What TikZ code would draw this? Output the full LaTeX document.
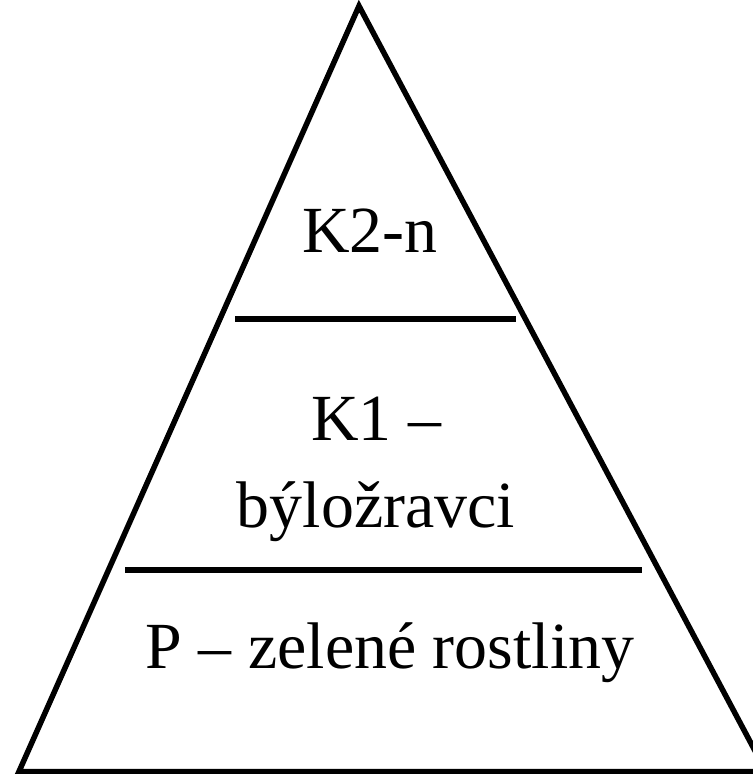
\documentclass[tikz,border=0pt]{standalone}
\usepackage{fontspec}
\setmainfont{Liberation Serif}

\tikzstyle{levelline} = [draw=black, line width=0.12cm, line cap=butt]
\tikzstyle{pyramid} = [draw=black, line width=0.11cm, line join=miter]
\tikzstyle{leveltext} = [inner sep=0pt, anchor=base, font=\fontsize{37.5}{45}\selectfont]

\begin{document}
\begin{tikzpicture}[x=0.02cm, y=-0.02cm]
    \useasboundingbox (0,0) rectangle (753,774);
    \clip (0,0) rectangle (753,774);

    \coordinate (apex) at (359,6);
    \coordinate (left) at (19,771.5);
    \coordinate (right) at (766,771.5);

    \draw [pyramid] (left) -- (apex) -- (right) -- cycle;

    \coordinate (l1a) at (235,319);
    \coordinate (l1b) at (516,319);
    \coordinate (l2a) at (125,570);
    \coordinate (l2b) at (642,570);
    \draw [levelline] (l1a) -- (l1b);
    \draw [levelline] (l2a) -- (l2b);

    \node (top) [leveltext] at (370,252) {K2-n};
    \node (midA) [leveltext] at (376,440) {K1 –};
    \node (midB) [leveltext] at (376,527) {býložravci};
    \node (base) [leveltext] at (390,668) {P – zelené rostliny};
\end{tikzpicture}
\end{document}
